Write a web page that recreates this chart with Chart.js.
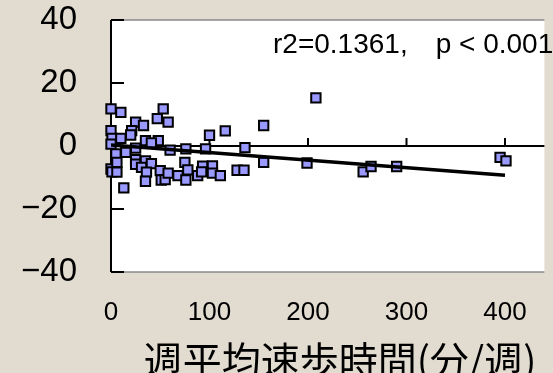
<!DOCTYPE html>
<html>
<head>
<meta charset="utf-8">
<script src="https://cdn.jsdelivr.net/npm/chart.js@4"></script>
<style>
html, body { margin: 0; padding: 0; overflow: hidden; background: #e1dbd0; }
#wrap { width: 553px; height: 373px; overflow: hidden; }
</style>
</head>
<body>
<div id="wrap"><canvas id="chart" width="553" height="379"></canvas></div>
<script>
// weekly brisk walking (min/week) vs change
var walkMin = [0, 10, 53, 47, 58, 25, 33, 116, 155, 208,
    100, 0, 21, 20, 1, 10, 0, 35, 48, 41,
    25, 15, 5, 60, 76, 96, 136, 155, 199, 256,
    264, 290, 395, 401, 0, 1, 6, 6, 13, 25,
    25, 35, 41, 31, 36, 35, 50, 51, 55, 58,
    68, 75, 78, 76, 88, 93, 103, 92, 103, 111,
    128, 135]
var change = [11.8, 10.7, 11.8, 8.7, 7.6, 7.6, 6.5, 4.8, 6.5, 15.3,
    3.4, 4.9, 4.9, 3.5, 2.4, 2.4, 0.6, 1.7, 1.7, 1.0,
    -0.7, -2, -2.5, -1.3, -0.9, -0.9, -0.5, -5.2, -5.4, -8.2,
    -6.5, -6.5, -3.6, -4.7, -7.3, -8.2, -8.3, -5.2, -13.3, -4.3,
    -5.8, -4.7, -5.6, -6.8, -8.3, -11.2, -7.8, -10.8, -10.7, -8.6,
    -9.4, -5.2, -7.6, -10.8, -9.4, -6.4, -6.3, -8.2, -8.6, -9.4,
    -7.7, -7.7]
var trendX = [0, 400]
var trendY = [0.3, -9.3]
var xTicks = [0, 100, 200, 300, 400]
var yTicks = [-40, -20, 0, 20, 40]
var xTitle = '週平均速歩時間(分/週)'
var statText = 'r2=0.1361,\u3000p < 0.001'

var points = walkMin.map(function (x, i) { return { x: x, y: change[i] } })
var trend = trendX.map(function (x, i) { return { x: x, y: trendY[i] } })

var framePlugin = {
    id: 'frame',
    beforeDraw: function (chart) {
        var ctx = chart.ctx, a = chart.chartArea
        ctx.save()
        ctx.fillStyle = '#e1dbd0'
        ctx.fillRect(0, 0, chart.width, chart.height)
        ctx.fillStyle = '#ffffff'
        ctx.fillRect(a.left, a.top, a.right - a.left, a.bottom - a.top)
        // grey plot border top / bottom
        ctx.strokeStyle = '#8a8a8a'
        ctx.lineWidth = 1.5
        ctx.beginPath()
        ctx.moveTo(a.left, a.top); ctx.lineTo(a.right, a.top)
        ctx.moveTo(a.left, a.bottom); ctx.lineTo(a.right, a.bottom)
        ctx.stroke()
        ctx.restore()
    },
    beforeDatasetsDraw: function (chart) {
        var ctx = chart.ctx, a = chart.chartArea
        var xs = chart.scales.x, ys = chart.scales.y
        var y0 = ys.getPixelForValue(0)
        ctx.save()
        ctx.strokeStyle = '#000'
        ctx.lineWidth = 2
        ctx.beginPath()
        // x axis through zero with upward ticks
        ctx.moveTo(a.left, y0); ctx.lineTo(a.right, y0)
        xTicks.forEach(function (v) {
            if (v === 0) return
            var px = xs.getPixelForValue(v)
            ctx.moveTo(px, y0); ctx.lineTo(px, y0 - 8)
        })
        // y axis with inward ticks
        ctx.moveTo(a.left, a.top); ctx.lineTo(a.left, a.bottom)
        yTicks.forEach(function (v) {
            if (v === 0) return
            var py = ys.getPixelForValue(v)
            ctx.moveTo(a.left, py); ctx.lineTo(a.left + 13, py)
        })
        ctx.stroke()
        ctx.restore()
    },
    afterDraw: function (chart) {
        var ctx = chart.ctx, a = chart.chartArea
        ctx.save()
        ctx.fillStyle = '#000'
        ctx.font = '28px "Liberation Sans", "Noto Sans CJK JP"'
        ctx.textBaseline = 'alphabetic'
        ctx.textAlign = 'left'
        ctx.fillText(statText, a.left + 162, a.top + 33)
        // axis title
        ctx.font = '39px "Noto Sans CJK JP"'
        ctx.textAlign = 'center'
        ctx.textBaseline = 'middle'
        ctx.fillText(xTitle, a.left + 229, a.bottom + 88)
        ctx.restore()
    }
}

document.addEventListener("DOMContentLoaded", () => {
    var ctx = document.getElementById('chart').getContext('2d')
    new Chart(ctx, {
        type: 'scatter',
        data: {
            datasets: [{
                data: trend,
                showLine: true,
                borderColor: '#000',
                borderWidth: 3.5,
                pointRadius: 0,
                order: 0
            }, {
                data: points,
                pointStyle: 'rect',
                pointRadius: 6.6,
                pointBackgroundColor: '#9999ff',
                pointBorderColor: '#000',
                pointBorderWidth: 2,
                clip: false,
                order: 1
            }]
        },
        options: {
            responsive: false,
            animation: false,
            layout: { padding: { left: 20, top: 20, right: 0, bottom: 51 } },
            plugins: { legend: { display: false }, tooltip: { enabled: false } },
            scales: {
                x: {
                    type: 'linear',
                    min: 0,
                    max: 440,
                    afterBuildTicks: function (s) { s.ticks = xTicks.map(function (v) { return { value: v } }) },
                    afterFit: function (s) { s.paddingLeft = 0; s.paddingRight = 0; s.height = 56 },
                    grid: { display: false, drawTicks: false },
                    border: { display: false },
                    ticks: {
                        color: '#000',
                        font: { family: 'Liberation Sans', size: 26 },
                        padding: 25,
                        maxRotation: 0,
                        autoSkip: false
                    }
                },
                y: {
                    min: -40,
                    max: 40,
                    afterBuildTicks: function (s) { s.ticks = yTicks.map(function (v) { return { value: v } }) },
                    afterFit: function (s) { s.paddingTop = 0; s.paddingBottom = 0; s.width = 91 },
                    grid: { display: false, drawTicks: false },
                    border: { display: false },
                    ticks: {
                        color: '#000',
                        font: { family: 'Liberation Sans', size: 33 },
                        padding: 34,
                        callback: function (v) { return v < 0 ? '\u2212' + Math.abs(v) : '' + v }
                    }
                }
            }
        },
        plugins: [framePlugin]
    })
})
</script>
</body>
</html>
